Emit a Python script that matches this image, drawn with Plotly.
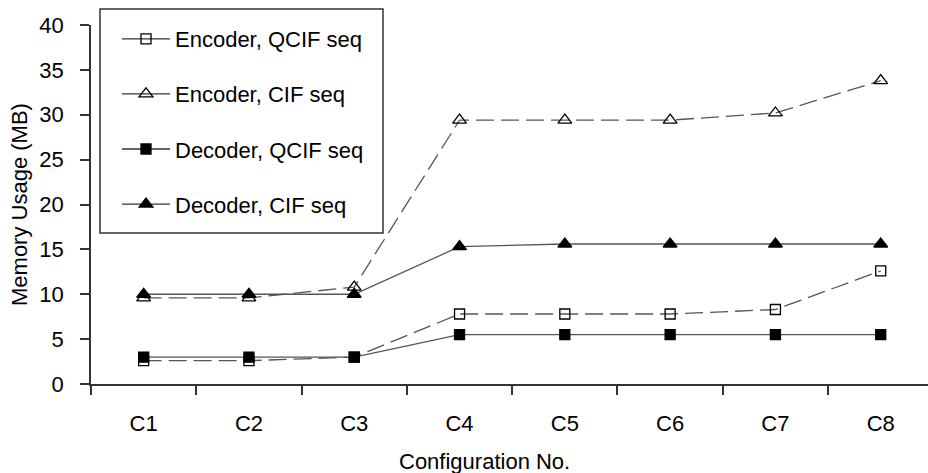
import plotly.graph_objects as go

categories = ["C1", "C2", "C3", "C4", "C5", "C6", "C7", "C8"]
enc_qcif = [2.6, 2.6, 3.0, 7.8, 7.8, 7.8, 8.3, 12.6]
enc_cif = [9.6, 9.6, 10.8, 29.4, 29.4, 29.4, 30.2, 33.8]
dec_qcif = [3.0, 3.0, 3.0, 5.5, 5.5, 5.5, 5.5, 5.5]
dec_cif = [10.0, 10.0, 10.0, 15.3, 15.6, 15.6, 15.6, 15.6]

series = [
    ("Encoder, QCIF seq", enc_qcif, "square-open", "18px,7px", 10),
    ("Encoder, CIF seq", enc_cif, "triangle-up-open", "18px,7px", 12),
    ("Decoder, QCIF seq", dec_qcif, "square", "solid", 10),
    ("Decoder, CIF seq", dec_cif, "triangle-up", "solid", 12),
]

FONT = "Liberation Sans, Arial, sans-serif"
FS = 22
fig = go.Figure()
for i, (name, vals, sym, dash, ms) in enumerate(series):
    fig.add_trace(go.Scatter(
        x=categories, y=vals, mode="lines+markers", name=name,
        line=dict(color="#555555", width=1.3, dash=dash),
        marker=dict(symbol=sym, size=ms, color="black",
                    line=dict(color="black", width=1.3)),
        showlegend=False,
    ))
for i, (name, vals, sym, dash, ms) in enumerate(series):
    fig.add_trace(go.Scatter(
        x=[None], y=[None], mode="lines+markers", name=name,
        line=dict(color="#333333", width=1.3),
        marker=dict(symbol=sym, size=ms, color="black",
                    line=dict(color="black", width=1.3)),
        legendgroup=f"g{i}", showlegend=True,
    ))

W, H = 928, 473
L, R, T, B = 91, 0, 25, 89
pw, ph = W - L - R, H - T - B

def px_x(x):
    return (x - L) / pw

def px_y(y):
    return (H - B - y) / ph

fig.update_layout(
    width=W, height=H,
    margin=dict(l=L, r=R, t=T, b=B),
    paper_bgcolor="white", plot_bgcolor="white",
    font=dict(family=FONT, size=FS, color="black"),
    showlegend=True,
    legend=dict(
        x=px_x(117), y=px_y(18), xanchor="left", yanchor="top",
        bgcolor="rgba(0,0,0,0)", borderwidth=0,
        font=dict(family=FONT, size=FS, color="black"),
        tracegroupgap=23.5, itemwidth=48,
    ),
    xaxis=dict(
        type="category", range=[-0.5, 7.449], tickson="boundaries",
        showline=True, linecolor="#333333", linewidth=1.5,
        ticks="outside", ticklen=9, tickcolor="#333333", tickwidth=1.5,
        showgrid=False, zeroline=False, ticklabelstandoff=19,
        tickfont=dict(family=FONT, size=FS),
    ),
    yaxis=dict(
        range=[0, 40], tickvals=[0, 5, 10, 15, 20, 25, 30, 35, 40],
        showline=True, linecolor="#333333", linewidth=1.5,
        ticks="outside", ticklen=9, tickcolor="#333333", tickwidth=1.5,
        showgrid=False, zeroline=False, ticklabelstandoff=12,
        tickfont=dict(family=FONT, size=FS),
    ),
    shapes=[dict(
        type="rect", xref="paper", yref="paper",
        x0=px_x(100), x1=px_x(383), y0=px_y(233), y1=px_y(9),
        line=dict(color="#333333", width=1.5), fillcolor="rgba(0,0,0,0)",
    )],
    annotations=[
        dict(text="Configuration No.", xref="paper", yref="paper",
             x=px_x(484), y=px_y(461), xanchor="center", yanchor="middle",
             showarrow=False, font=dict(family=FONT, size=FS)),
        dict(text="Memory Usage (MB)", xref="paper", yref="paper",
             x=px_x(19), y=px_y(205), xanchor="center", yanchor="middle",
             textangle=-90, showarrow=False, font=dict(family=FONT, size=FS)),
    ],
)

fig.write_html("out.html")
